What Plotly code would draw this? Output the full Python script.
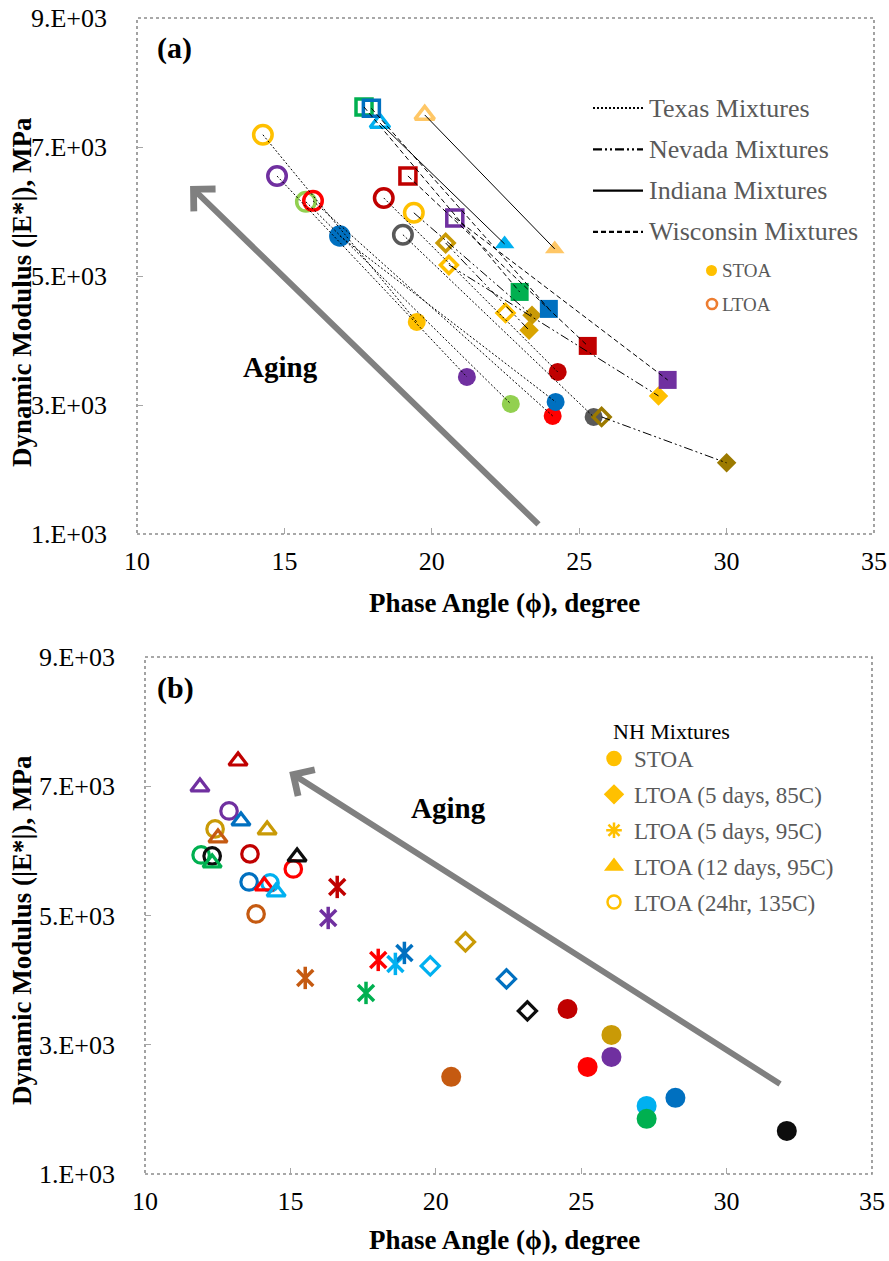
import plotly.graph_objects as go

W, H = 889, 1261
FONT = "Liberation Serif"

# ---------------- Panel (a): four state mixture sets, STOA vs LTOA ----------------
a_group = ["Texas"] * 7 + ["Nevada"] * 5 + ["Indiana"] * 2 + ["Wisconsin"] * 4
a_ltoa_phase = [14.27, 14.75, 15.73, 15.97, 16.88, 18.37, 19.02,
                19.39, 20.47, 20.58, 22.50, 25.76,
                19.76, 18.24,
                17.70, 17.95, 19.19, 20.78]
a_ltoa_mod = [7190, 6550, 6150, 6165, 5620, 6210, 5640,
              5980, 5512, 5171, 4428, 2815,
              7497, 7372,
              7620, 7600, 6551, 5900]
a_stoa_phase = [19.49, 21.19, 22.68, 24.10, 24.20, 24.27, 25.49,
                23.40, 23.30, 27.69, None, 30.00,
                24.17, 22.47,
                22.98, 23.97, 25.29, 28.00]
a_stoa_mod = [4288, 3436, 3017, 2831, 3048, 3513, 2815,
              4390, 4160, 3141, None, 2103,
              5420, 5497,
              4753, 4490, 3916, 3389]

a_color = ["#FFC000", "#7030A0", "#92D050", "#FF0000", "#0070C0", "#C00000", "#595959",
           "#FFC000", "#C99A06", "#FFC000", "#FFC000", "#9C7A00",
           "#FFC766", "#00B0F0",
           "#00B050", "#0070C0", "#C00000", "#7030A0"]
a_ltoa_shape = ["circle"] * 8 + ["diamond"] * 4 + ["triangle-up"] * 2 + ["square"] * 4
a_ltoa_open = [True, True, True, True, False, True, True,
               True, True, True, True, True,
               True, True,
               True, True, True, True]
a_stoa_shape = ["circle"] * 7 + ["diamond"] * 5 + ["triangle-up"] * 2 + ["square"] * 4
a_stoa_color = a_color[:7] + ["#C99A06", "#D9A400", "#FFC000", "#FFC000", "#9C7A00"] + a_color[12:]

line_dash = {"Texas": "2px,2px", "Nevada": "9px,3px,2px,3px,2px,3px",
             "Indiana": "solid", "Wisconsin": "5px,3px"}
legend_a = ["Texas", "Nevada", "Indiana", "Wisconsin"]

# ---------------- Panel (b): NH mixtures under five ageing conditions ----------------
b_color = ["#C00000", "#C99A06", "#7030A0", "#FF0000", "#C55A11",
           "#00B0F0", "#00B050", "#0070C0", "#0D0D0D"]
b_stoa_phase = [24.53, 26.04, 26.04, 25.22, 20.53, 27.25, 27.25, 28.24, 32.07]
b_stoa_mod = [3554, 3152, 2812, 2657, 2503, 2054, 1853, 2178, 1667]
b_85c_phase = [None, 21.02, None, None, None, 19.81, None, 22.43, 23.15]
b_85c_mod = [None, 4591, None, None, None, 4220, None, 4019, 3524]
b_95c_phase = [16.61, None, 16.30, 18.02, 15.51, 18.61, 17.60, 18.92, None]
b_95c_mod = [5442, None, 4962, 4313, 4034, 4251, 3802, 4421, None]
b_12d_phase = [13.20, 14.20, 11.89, 14.10, 12.51, 14.51, 12.31, 13.30, 15.23]
b_12d_mod = [7391, 6324, 6989, 5457, 6200, 5365, 5813, 6463, 5906]
b_135c_phase = [13.61, 12.41, 12.89, 15.10, 13.82, 14.30, 11.93, 13.58, 12.31]
b_135c_mod = [5953, 6339, 6618, 5720, 5024, 5504, 5937, 5519, 5922]

b_labels = ["STOA", "LTOA (5 days, 85C)", "LTOA (5 days, 95C)",
            "LTOA (12 days, 95C)", "LTOA (24hr, 135C)"]

x_ticks = [10, 15, 20, 25, 30, 35]
y_ticks = [1000, 3000, 5000, 7000, 9000]
y_ticktext = ["1.E+03", "3.E+03", "5.E+03", "7.E+03", "9.E+03"]

fig = go.Figure()

# --- panel (a) markers ---
open_size = {"circle": 18.5, "diamond": 13, "triangle-up": 17, "square": 16}
fill_size = {"circle": 18, "diamond": 15, "triangle-up": 17, "square": 18}
for i in range(len(a_group)):
    shp = a_ltoa_shape[i]
    if a_ltoa_open[i]:
        sym, sz = shp + "-open", open_size[shp]
    else:
        sym, sz = shp, fill_size[shp]
    fig.add_trace(go.Scatter(
        x=[a_ltoa_phase[i]], y=[a_ltoa_mod[i]], mode="markers", xaxis="x", yaxis="y",
        marker=dict(symbol=sym, size=sz, color=a_color[i], line=dict(width=3.5, color=a_color[i])),
        showlegend=False, hoverinfo="skip"))
    if a_stoa_phase[i] is not None:
        fig.add_trace(go.Scatter(
            x=[a_stoa_phase[i]], y=[a_stoa_mod[i]], mode="markers", xaxis="x", yaxis="y",
            marker=dict(symbol=a_stoa_shape[i], size=fill_size[a_stoa_shape[i]],
                        color=a_stoa_color[i], line=dict(width=0)),
            showlegend=False, hoverinfo="skip"))

# --- panel (a) connecting lines drawn above markers ---
for i in range(len(a_group)):
    if a_stoa_phase[i] is None:
        continue
    fig.add_trace(go.Scatter(
        x=[a_ltoa_phase[i], a_stoa_phase[i]], y=[a_ltoa_mod[i], a_stoa_mod[i]],
        mode="lines", xaxis="x", yaxis="y",
        line=dict(color="black", width=1, dash=line_dash[a_group[i]]),
        showlegend=False, hoverinfo="skip"))

# --- panel (b) markers ---
fig.add_trace(go.Scatter(x=b_stoa_phase, y=b_stoa_mod, mode="markers", xaxis="x2", yaxis="y2",
                         marker=dict(symbol="circle", size=20, color=b_color),
                         showlegend=False, hoverinfo="skip"))
fig.add_trace(go.Scatter(x=b_85c_phase, y=b_85c_mod, mode="markers", xaxis="x2", yaxis="y2",
                         marker=dict(symbol="diamond-open", size=14, color=b_color, line=dict(width=3.2)),
                         showlegend=False, hoverinfo="skip"))
for s in ["x-thin-open", "line-ns-open"]:
    fig.add_trace(go.Scatter(x=b_95c_phase, y=b_95c_mod, mode="markers", xaxis="x2", yaxis="y2",
                             marker=dict(symbol=s, size=16, color=b_color, line=dict(width=3.5, color=b_color)),
                             showlegend=False, hoverinfo="skip"))
fig.add_trace(go.Scatter(x=b_135c_phase, y=b_135c_mod, mode="markers", xaxis="x2", yaxis="y2",
                         marker=dict(symbol="circle-open", size=16.5, color=b_color, line=dict(width=3.2)),
                         showlegend=False, hoverinfo="skip"))
fig.add_trace(go.Scatter(x=b_12d_phase, y=b_12d_mod, mode="markers", xaxis="x2", yaxis="y2",
                         marker=dict(symbol="triangle-up-open", size=16, color=b_color, line=dict(width=3.2)),
                         showlegend=False, hoverinfo="skip"))

# --- panel (b) legend entries ---
leg_syms = ["circle", "diamond", "asterisk-open", "triangle-up", "circle-open"]
for lab, sym in zip(b_labels, leg_syms):
    fig.add_trace(go.Scatter(x=[None], y=[None], mode="markers", xaxis="x2", yaxis="y2",
                             name=lab, legendgroup=lab,
                             marker=dict(symbol=sym, size=13, color="#FFC000",
                                         line=dict(width=2.5, color="#FFC000")),
                             showlegend=True))


def px(x):
    return x / W


def py(y):
    return 1 - y / H


axis_common = dict(showgrid=False, zeroline=False, showline=False, ticks="inside",
                   ticklen=6, tickcolor="#A6A6A6", tickwidth=1, automargin=False,
                   tickfont=dict(family=FONT, size=26, color="black"))

fig.update_layout(
    width=W, height=H, margin=dict(l=0, r=0, t=0, b=0, autoexpand=False),
    paper_bgcolor="white", plot_bgcolor="white",
    xaxis=dict(domain=[px(137), px(874)], range=[10, 35], tickvals=x_ticks, anchor="y",
               ticklabelstandoff=9, **axis_common),
    yaxis=dict(domain=[py(534), py(18)], range=[1000, 9000], tickvals=y_ticks, ticktext=y_ticktext,
               anchor="x", ticklabelstandoff=29, **axis_common),
    xaxis2=dict(domain=[px(145), px(872)], range=[10, 35], tickvals=x_ticks, anchor="y2",
                ticklabelstandoff=9, **axis_common),
    yaxis2=dict(domain=[py(1174), py(657)], range=[1000, 9000], tickvals=y_ticks, ticktext=y_ticktext,
                anchor="x2", ticklabelstandoff=29, **axis_common),
    legend=dict(x=px(594), y=py(737), xanchor="left", yanchor="top",
                bgcolor="rgba(0,0,0,0)", borderwidth=0, traceorder="grouped",
                tracegroupgap=3, itemwidth=30,
                font=dict(family=FONT, size=23, color="#595959")),
    showlegend=True,
)

# dotted plot frames
for xr, yr in [("x domain", "y domain"), ("x2 domain", "y2 domain")]:
    fig.add_shape(type="rect", xref=xr, yref=yr, x0=0, x1=1, y0=0, y1=1,
                  line=dict(color="#8C8C8C", width=1.6, dash="dot"), layer="below")

# panel (a) legend: line styles
for k, g in enumerate(legend_a):
    yy = py(108 + k * 41.3)
    fig.add_shape(type="line", xref="paper", yref="paper", x0=px(593), x1=px(643), y0=yy, y1=yy,
                  line=dict(color="black", width=2.2, dash=line_dash[g]))
    fig.add_annotation(x=px(647), y=yy, xref="paper", yref="paper", text=g + " Mixtures",
                       showarrow=False, xanchor="left", yanchor="middle",
                       font=dict(family=FONT, size=26, color="#595959"))
# STOA / LTOA keys
fig.add_shape(type="circle", xref="paper", yref="paper", x0=px(706), x1=px(717), y0=py(276), y1=py(265),
              fillcolor="#FFC000", line=dict(width=0))
fig.add_shape(type="circle", xref="paper", yref="paper", x0=px(707), x1=px(717), y0=py(309), y1=py(299),
              fillcolor="rgba(0,0,0,0)", line=dict(width=2.6, color="#ED7D31"))
for t, yv in [("STOA", 270), ("LTOA", 304)]:
    fig.add_annotation(x=px(720), y=py(yv), xref="paper", yref="paper", text=t, showarrow=False,
                       xanchor="left", yanchor="middle", font=dict(family=FONT, size=19, color="#595959"))

# panel (b) legend heading
fig.add_annotation(x=px(611), y=py(731), xref="paper", yref="paper", text="NH Mixtures", showarrow=False,
                   xanchor="left", yanchor="middle", font=dict(family=FONT, size=22, color="black"))

# panel labels, ageing arrows and axis titles
fig.add_annotation(x=px(155), y=py(48), xref="paper", yref="paper", text="<b>(a)</b>", showarrow=False,
                   xanchor="left", yanchor="middle", font=dict(family=FONT, size=30, color="black"))
fig.add_annotation(x=px(155), y=py(688), xref="paper", yref="paper", text="<b>(b)</b>", showarrow=False,
                   xanchor="left", yanchor="middle", font=dict(family=FONT, size=30, color="black"))
fig.add_annotation(x=px(280), y=py(367), xref="paper", yref="paper", text="<b>Aging</b>", showarrow=False,
                   xanchor="center", yanchor="middle", font=dict(family=FONT, size=29, color="black"))
fig.add_annotation(x=px(449), y=py(808), xref="paper", yref="paper", text="<b>Aging</b>", showarrow=False,
                   xanchor="center", yanchor="middle", font=dict(family=FONT, size=29, color="black"))

fig.add_annotation(x=11.80, y=6396, ax=23.67, ay=1126, xref="x", yref="y", axref="x", ayref="y",
                   showarrow=True, arrowhead=4, arrowsize=1, arrowwidth=6, arrowcolor="#808080", text="")
fig.add_annotation(x=14.96, y=7221, ax=31.89, ay=2379, xref="x2", yref="y2", axref="x2", ayref="y2",
                   showarrow=True, arrowhead=4, arrowsize=1, arrowwidth=6, arrowcolor="#808080", text="")

for yc in [603, 1240]:
    fig.add_annotation(x=px(504), y=py(yc), xref="paper", yref="paper",
                       text="<b>Phase Angle (ϕ), degree</b>", showarrow=False,
                       xanchor="center", yanchor="middle",
                       font=dict(family=FONT, size=27, color="black"))
for yc in [292, 930]:
    fig.add_annotation(x=px(22), y=py(yc), xref="paper", yref="paper", textangle=-90,
                       text="<b>Dynamic Modulus (|E*|), MPa</b>", showarrow=False,
                       xanchor="center", yanchor="middle",
                       font=dict(family=FONT, size=27, color="black"))

fig.write_html("out.html")
